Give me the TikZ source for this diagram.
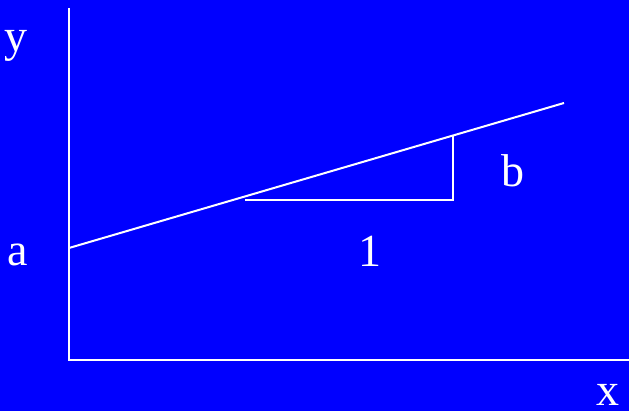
\documentclass[tikz,border=0pt]{standalone}
\usepackage{fontspec}
\setmainfont{Liberation Serif}
\begin{document}
\begin{tikzpicture}[x=1pt,y=-1pt,
  ln/.style={draw=white,line width=2pt},
  lbl/.style={text=white,font=\fontsize{46}{50}\selectfont,anchor=base,inner sep=0pt}]
\fill[blue] (0,0) rectangle (629,411);
\useasboundingbox (0,0) rectangle (629,411);
\coordinate (ytop) at (69,8);
\coordinate (orig) at (69,360);
\coordinate (xend) at (629,360);
\coordinate (ls) at (69,248);
\coordinate (le) at (564,103);
\coordinate (ts) at (245,200);
\coordinate (tc) at (453,200);
\coordinate (tt) at (453,136);
\draw[ln] (ytop) -- (orig) -- (xend);
\draw[ln] (ls) -- (le);
\draw[ln] (ts) -- (tc) -- (tt);
\node[lbl] (ylab) at (16,52) {y};
\node[lbl] (alab) at (18,266) {a};
\node[lbl] (onelab) at (370,267) {1};
\node[lbl] (blab) at (513,187) {b};
\node[lbl] (xlab) at (608,405) {x};
\end{tikzpicture}
\end{document}
